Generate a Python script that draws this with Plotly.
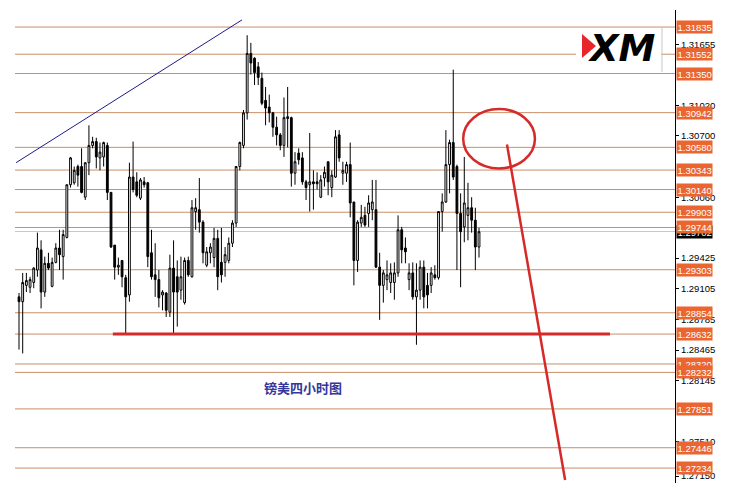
import plotly.graph_objects as go

# ---------------- data ----------------
open_ = [1.2902,1.2897,1.2914,1.2912,1.2917,1.2930,1.2951,1.2907,1.2937,1.2913,
         1.2938,1.2953,1.2944,1.2964,1.3019,1.3021,1.3038,1.3038,1.3006,1.3042,
         1.3060,1.3064,1.3047,1.3048,1.3060,1.3011,1.2956,1.2933,1.2940,1.2922,
         1.2904,1.3027,1.3022,1.3005,1.3022,1.3021,1.2948,1.2925,1.2920,1.2904,
         1.2906,1.2886,1.2932,1.2923,1.2909,1.2896,1.2940,1.2923,1.2991,1.2993,
         1.2980,1.2935,1.2948,1.2943,1.2963,1.2938,1.2938,1.2940,1.2958,1.2979,
         1.3038,1.3060,1.3094,1.3156,1.3151,1.3142,1.3130,1.3107,1.3100,1.3094,
         1.3079,1.3071,1.3060,1.3088,1.3089,1.3031,1.3052,1.3047,1.3022,1.3019,
         1.3022,1.3022,1.3006,1.3026,1.3043,1.3016,1.3027,1.3071,1.3031,1.3031,
         1.3040,1.3001,1.2940,1.2979,1.2987,1.2989,1.2993,1.2993,1.2933,1.2914,
         1.2920,1.2917,1.2917,1.2927,1.2972,1.2953,1.2920,1.2927,1.2902,1.2909,
         1.2933,1.2914,1.2914,1.2925,1.2922,1.2991,1.3001,1.3040,1.3063,1.3038,
         1.2989,1.2975,1.2987,1.2995,1.2982,1.2954]
high = [1.2906,1.2927,1.2927,1.2923,1.2933,1.2969,1.2961,1.2944,1.2948,1.2943,
        1.2958,1.2972,1.2972,1.3019,1.3048,1.3038,1.3040,1.3057,1.3042,1.3081,
        1.3069,1.3068,1.3063,1.3064,1.3063,1.3011,1.2956,1.2943,1.2940,1.2925,
        1.3042,1.3064,1.3032,1.3026,1.3027,1.3022,1.2972,1.2958,1.2930,1.2909,
        1.2907,1.2946,1.2961,1.2940,1.2944,1.2943,1.2944,1.3003,1.3005,1.3026,
        1.2982,1.2954,1.2958,1.2974,1.2972,1.2974,1.2954,1.2964,1.2982,1.3038,
        1.3064,1.3097,1.3175,1.3167,1.3152,1.3147,1.3136,1.3121,1.3113,1.3095,
        1.3090,1.3073,1.3110,1.3121,1.3090,1.3053,1.3057,1.3053,1.3024,1.3073,
        1.3034,1.3032,1.3029,1.3038,1.3043,1.3034,1.3076,1.3076,1.3043,1.3043,
        1.3063,1.3001,1.2982,1.2998,1.2996,1.3008,1.3024,1.3024,1.2948,1.2930,
        1.2940,1.2937,1.2938,1.2987,1.2975,1.2964,1.2937,1.2938,1.2937,1.2940,
        1.2940,1.2927,1.2933,1.2935,1.2991,1.3010,1.3076,1.3066,1.3139,1.3040,
        1.3010,1.3048,1.3021,1.3006,1.2995,1.2974]
low = [1.2847,1.2843,1.2907,1.2906,1.2911,1.2923,1.2890,1.2902,1.2930,1.2912,
       1.2937,1.2930,1.2920,1.2963,1.3016,1.3019,1.3017,1.3010,1.3003,1.3029,
       1.3057,1.3036,1.3034,1.3038,1.3003,1.2953,1.2920,1.2925,1.2912,1.2864,
       1.2897,1.3011,1.3006,1.3003,1.3016,1.2933,1.2920,1.2902,1.2891,1.2888,
       1.2881,1.2881,1.2864,1.2871,1.2899,1.2894,1.2923,1.2922,1.2972,1.2969,
       1.2937,1.2933,1.2937,1.2933,1.2909,1.2917,1.2923,1.2937,1.2954,1.2975,
       1.3034,1.3057,1.3087,1.3134,1.3123,1.3123,1.3102,1.3081,1.3084,1.3069,
       1.3060,1.3055,1.3048,1.3058,1.3017,1.3019,1.3040,1.3019,1.3003,1.2991,
       1.2993,1.3014,1.3005,1.3017,1.3008,1.3006,1.3026,1.3043,1.3019,1.3022,
       1.2985,1.2914,1.2928,1.2975,1.2975,1.2975,1.2982,1.2932,1.2878,1.2896,
       1.2909,1.2906,1.2899,1.2923,1.2937,1.2937,1.2909,1.2899,1.2852,1.2899,
       1.2890,1.2890,1.2906,1.2920,1.2920,1.2970,1.3000,1.3010,1.3024,1.2930,
       1.2912,1.2959,1.2961,1.2969,1.2930,1.2943]
close = [1.2897,1.2917,1.2919,1.2920,1.2932,1.2953,1.2907,1.2937,1.2932,1.2938,
         1.2953,1.2946,1.2967,1.3019,1.3047,1.3034,1.3029,1.3011,1.3042,1.3060,
         1.3064,1.3048,1.3053,1.3063,1.3011,1.2954,1.2933,1.2935,1.2923,1.2902,
         1.3027,1.3014,1.3008,1.3024,1.3019,1.2944,1.2923,1.2920,1.2901,1.2907,
         1.2888,1.2932,1.2907,1.2907,1.2923,1.2940,1.2925,1.2995,1.2995,1.2980,
         1.2948,1.2949,1.2954,1.2963,1.2923,1.2925,1.2946,1.2958,1.2979,1.3038,
         1.3063,1.3094,1.3156,1.3146,1.3136,1.3131,1.3104,1.3099,1.3094,1.3079,
         1.3071,1.3060,1.3089,1.3090,1.3031,1.3043,1.3045,1.3022,1.3016,1.3022,
         1.3020,1.3020,1.3024,1.3032,1.3022,1.3029,1.3069,1.3047,1.3034,1.3040,
         1.3000,1.2940,1.2980,1.2985,1.2977,1.3000,1.3001,1.2933,1.2914,1.2927,
         1.2925,1.2927,1.2927,1.2972,1.2951,1.2949,1.2927,1.2902,1.2909,1.2933,
         1.2902,1.2904,1.2927,1.2922,1.2991,1.3001,1.3040,1.3063,1.3027,1.2989,
         1.2970,1.3000,1.2995,1.2982,1.2954,1.2970]
bars = list(range(len(close)))

levels = [1.31835, 1.31552, 1.31350, 1.30942, 1.30580, 1.30343, 1.30140, 1.29903,
          1.29744, 1.29303, 1.28854, 1.28632, 1.28320, 1.28232, 1.27851, 1.27446, 1.27234]
level_labels = ["%.5f" % v for v in levels]
current_price = 1.29702
axis_ticks = [1.31655, 1.31020, 1.30700, 1.30060, 1.29425, 1.29105,
              1.28785, 1.28465, 1.28145, 1.27510, 1.27150]

trend_x = [-0.8, 60.6]
trend_y = [1.3042, 1.3191]
support_x = [25.5, 160.6]
support_y = [1.28632, 1.28632]
ellipse_x = [120.7, 140.2]
ellipse_y = [1.3036, 1.3098]
arrow_x = [132.6, 148.4]
arrow_y = [1.3061, 1.2711]
title_text = "镑美四小时图"
logo_text = "XM"

# ---------------- styling ----------------
OFF = 8                      # default page body margin
W, H = 738 - OFF, 499 - OFF
PL, PR, PT, PB = 15, 675, 10, 483   # plot area in screen pixels
ML, MR, MT, MB = PL - OFF, W - (PR - OFF), PT - OFF, H - (PB - OFF)
LEVEL_COLOR = "#c98f68"
LABEL_BG = "#ea6530"
RED = "#d62a2a"
YR = [1.27078, 1.32013]
XR = [-1.09, 178.26]


def px(x):
    return (x - PL) / (PR - PL)


def py(y):
    return (PB - y) / (PB - PT)


fig = go.Figure()
fig.add_trace(go.Candlestick(
    x=bars, open=open_, high=high, low=low, close=close,
    increasing=dict(line=dict(color="black", width=1), fillcolor="white"),
    decreasing=dict(line=dict(color="black", width=1), fillcolor="black"),
    whiskerwidth=0, showlegend=False, hoverinfo="skip"))

shapes = []
for v in levels:
    shapes.append(dict(type="line", xref="paper", yref="y", x0=0, x1=1, y0=v, y1=v,
                       line=dict(color=LEVEL_COLOR, width=1), layer="below"))
shapes.append(dict(type="line", xref="paper", yref="y", x0=0, x1=1, y0=current_price,
                   y1=current_price, line=dict(color="#c8c8c8", width=1), layer="below"))
# logo background
shapes.append(dict(type="rect", xref="paper", yref="paper", x0=px(576), x1=px(661),
                   y0=py(70), y1=py(30), fillcolor="white", line=dict(width=0), layer="above"))
shapes.append(dict(type="line", xref="paper", yref="paper", x0=px(662), x1=px(662),
                   y0=py(72), y1=py(28), line=dict(color="#c8c8c8", width=1)))
shapes.append(dict(type="path", xref="paper", yref="paper",
                   path="M %f %f L %f %f L %f %f Z" % (px(582), py(34), px(596), py(46), px(582), py(58)),
                   fillcolor="#e8262a", line=dict(width=0)))
# trend line
shapes.append(dict(type="line", x0=trend_x[0], x1=trend_x[1], y0=trend_y[0], y1=trend_y[1],
                   line=dict(color="#1c1c8a", width=1)))
# support
shapes.append(dict(type="line", x0=support_x[0], x1=support_x[1], y0=support_y[0], y1=support_y[1],
                   line=dict(color=RED, width=3)))
# ellipse
shapes.append(dict(type="circle", x0=ellipse_x[0], x1=ellipse_x[1], y0=ellipse_y[0], y1=ellipse_y[1],
                   line=dict(color=RED, width=2.5)))
# arrow line
shapes.append(dict(type="line", x0=arrow_x[0], x1=arrow_x[1], y0=arrow_y[0], y1=arrow_y[1],
                   line=dict(color=RED, width=2.5)))

annotations = []
annotations.append(dict(xref="paper", yref="y", x=1, y=current_price, xanchor="left", yanchor="middle",
                        xshift=1, text="%.5f" % current_price, showarrow=False,
                        font=dict(family="Liberation Sans", size=9.5, color="white"),
                        bgcolor="black", borderpad=0.5))
for v, t in zip(levels, level_labels):
    annotations.append(dict(xref="paper", yref="y", x=1, y=v, xanchor="left", yanchor="middle",
                            xshift=1, text=t, showarrow=False,
                            font=dict(family="Liberation Sans", size=9.5, color="white"),
                            bgcolor=LABEL_BG, borderpad=0.5))
annotations.append(dict(xref="paper", yref="paper", x=px(303), y=py(399), text="<b>%s</b>" % title_text,
                        showarrow=False, font=dict(family="Noto Sans CJK SC", size=13, color="#35379a")))
annotations.append(dict(xref="paper", yref="paper", x=px(658), y=py(25), text="<b><i>%s</i></b>" % logo_text,
                        showarrow=False, font=dict(family="DejaVu Sans", size=37, color="black")))

fig.update_layout(
    width=W, height=H, margin=dict(l=ML, r=MR, t=MT, b=MB),
    paper_bgcolor="white", plot_bgcolor="white",
    shapes=shapes, annotations=annotations,
    xaxis=dict(range=XR, visible=False, rangeslider=dict(visible=False), showgrid=False),
    yaxis=dict(range=YR, side="right", showgrid=False, zeroline=False, showline=True,
               linecolor="black", linewidth=1, ticks="outside", ticklen=3, tickcolor="black",
               tickvals=axis_ticks, ticktext=["%.5f" % v for v in axis_ticks],
               tickfont=dict(family="Liberation Sans", size=9.5, color="black")),
)
fig.write_html("out.html")
